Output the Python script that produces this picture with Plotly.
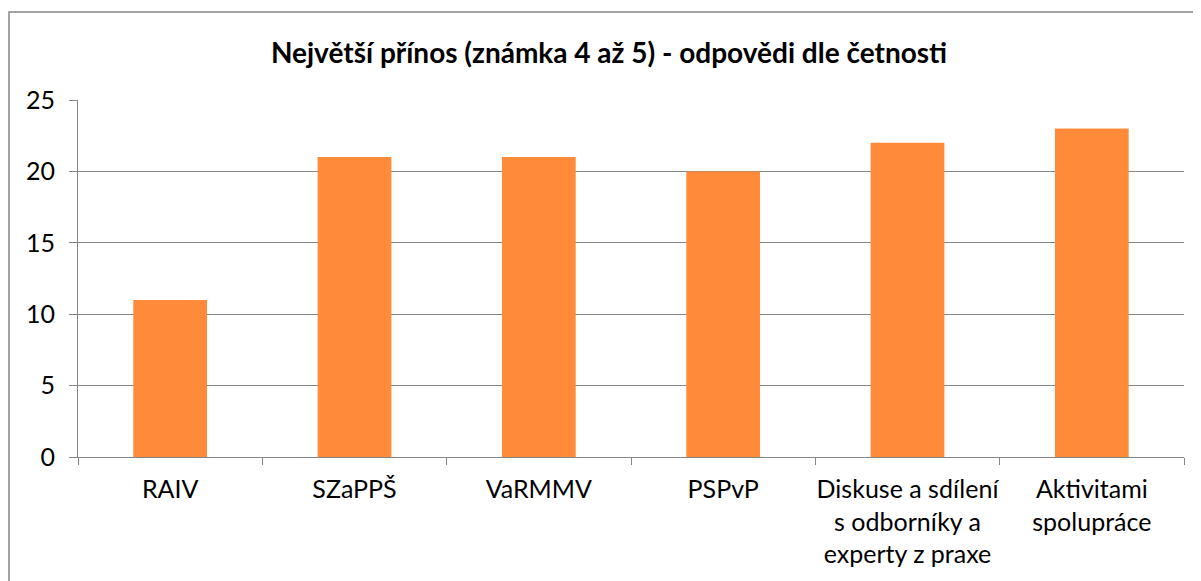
import plotly.graph_objects as go

categories = ["RAIV", "SZaPPŠ", "VaRMMV", "PSPvP",
              "Diskuse a sdílení<br>s odborníky a<br>experty z praxe",
              "Aktivitami<br>spolupráce"]
values = [11, 21, 21, 20, 22, 23]
y_ticks = [0, 5, 10, 15, 20, 25]
title = "Největší přínos (známka 4 až 5) - odpovědi dle četnosti"

FONT = "Lato"
OFF = 8  # page body margin
fig = go.Figure(go.Bar(x=categories, y=values, marker=dict(color="#FF8B3A", line=dict(width=0)),
                       width=0.4))

H = 581
fig.update_layout(
    width=1201, height=H,
    margin=dict(l=78 - OFF, r=1201 - (1184 - OFF), t=100 - OFF, b=H - (457 - OFF)),
    paper_bgcolor="white", plot_bgcolor="white",
    font=dict(family=FONT, size=25, color="#000000"),
    title=dict(text="<b>" + title + "</b>", x=(609 - OFF) / 1201, xref="container", xanchor="center",
               y=1 - (53 - OFF) / H, yref="container", yanchor="middle",
               font=dict(family=FONT, size=28, color="#000000")),
    showlegend=False,
    bargap=0.6,
)
fig.update_yaxes(range=[0, 25], tickvals=y_ticks, showgrid=True, gridcolor="#868686", gridwidth=1,
                 showline=True, linecolor="#868686", linewidth=1,
                 ticks="outside", ticklen=8, tickcolor="#868686",
                 zeroline=False, tickfont=dict(size=25), ticklabelstandoff=9)
fig.update_xaxes(showline=True, linecolor="#868686", linewidth=1, ticks="outside", ticklen=7,
                 tickcolor="#868686", tickson="boundaries", showgrid=False,
                 tickfont=dict(size=25), tickangle=0, ticklabelstandoff=10)
fig.add_shape(type="rect", xref="paper", yref="paper",
              x0=(9 - 78) / 1106, x1=1.05, y0=-0.5, y1=(457 - 12) / 357,
              line=dict(color="#868686", width=1.5), fillcolor="rgba(0,0,0,0)", layer="above")
fig.write_html("out.html")
